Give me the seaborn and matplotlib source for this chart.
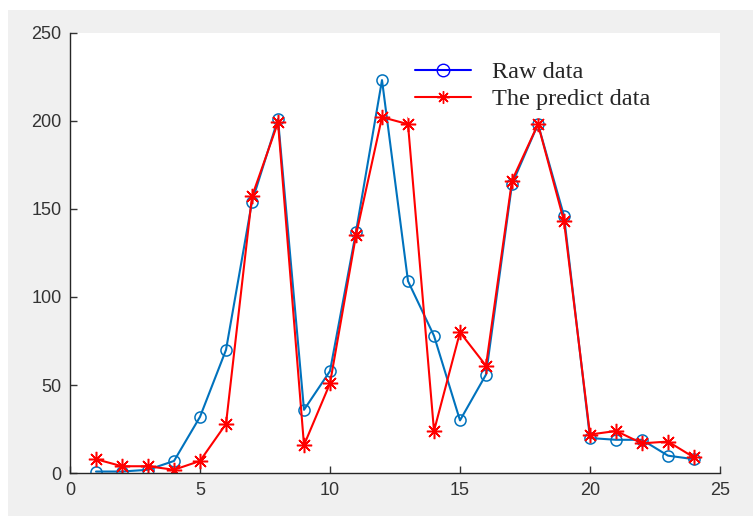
import numpy as np
import matplotlib
matplotlib.use("Agg")
import matplotlib.pyplot as plt
from matplotlib.lines import Line2D
from matplotlib.patches import Rectangle
import seaborn as sns

# values
hours = list(range(1, 25))
raw_data = [1, 1, 2, 7, 32, 70, 154, 201, 36, 58, 137, 223,
            109, 78, 30, 56, 164, 198, 146, 20, 19, 19, 10, 8]
predict_data = [8, 4, 4, 2, 7, 28, 157, 199, 16, 51, 135, 202,
                198, 24, 80, 61, 166, 198, 143, 22, 24, 17, 18, 9]
x_ticks = [0, 5, 10, 15, 20, 25]
y_ticks = [0, 50, 100, 150, 200, 250]
legend_labels = ['Raw data', 'The predict data']

sns.set_style("white")
plt.rcParams['font.family'] = ['Liberation Sans', 'DejaVu Sans']

# MATLAB style '*' : eight-armed asterisk
asterisk = (8, 2, 0)

fig = plt.figure(figsize=(7.53, 5.16), dpi=100, facecolor='white')
# grey window background like the MATLAB figure screenshot
fig.patches.append(Rectangle((8 / 753, 0), 1, 1 - 10 / 516, transform=fig.transFigure,
                             facecolor='#f0f0f0', edgecolor='none', zorder=-10))
ax = fig.add_axes([70 / 753, (516 - 473.3) / 516, 650 / 753, (473.3 - 32.5) / 516])
ax.set_facecolor('white')

sns.lineplot(x=hours, y=raw_data, ax=ax, color='#0072BD', lw=1.5,
             marker='o', markersize=8, markerfacecolor='none',
             markeredgecolor='#0072BD', markeredgewidth=1.1)
sns.lineplot(x=hours, y=predict_data, ax=ax, color='#FF0000', lw=1.5,
             marker=asterisk, markersize=11, markerfacecolor='#FF0000',
             markeredgecolor='#FF0000', markeredgewidth=1.1)

ax.set_xlim(0, 25)
ax.set_ylim(0, 250)
ax.set_xticks(x_ticks)
ax.set_yticks(y_ticks)
ax.tick_params(direction='in', length=5, width=1, colors='#333333',
               labelsize=13, pad=6, left=True, bottom=True)
for s in ['top', 'right']:
    ax.spines[s].set_visible(False)
for s in ['left', 'bottom']:
    ax.spines[s].set_color('#262626')
    ax.spines[s].set_linewidth(1)

handles = [
    Line2D([], [], color='#0000FF', lw=1.5, marker='o', markersize=9,
           markerfacecolor='none', markeredgecolor='#0000FF'),
    Line2D([], [], color='#FF0000', lw=1.5, marker=asterisk, markersize=9,
           markerfacecolor='#FF0000', markeredgecolor='#FF0000'),
]
leg = ax.legend(handles, legend_labels, loc='upper left',
                bbox_to_anchor=(408 / 753, 1 - 54 / 516), bbox_transform=fig.transFigure,
                frameon=True, facecolor='white', edgecolor='white', framealpha=1,
                handlelength=2.3, handletextpad=0.85, labelspacing=0.2,
                borderpad=0.3, borderaxespad=0, fancybox=False,
                prop={'family': 'Liberation Serif', 'size': 17.5})
leg.set_zorder(5)

fig.savefig('out.png', dpi=100, facecolor=fig.get_facecolor())
